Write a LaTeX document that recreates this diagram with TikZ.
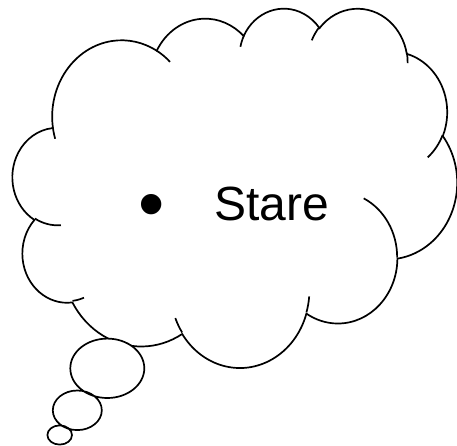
\documentclass[tikz,border=0pt]{standalone}
\usepackage{fontspec}
\setmainfont{Liberation Sans}

\tikzset{
  cloudline/.style={draw=black,line width=1.7pt,fill=white},
  tailline/.style={draw=black,line width=1.7pt},
}
% elliptic arc, start angle and sweep given as seen on the ellipse
\newcommand\cloudarc[4]{%
  \pgfextra{%
    \pgfmathparse{(#3)+mod(atan2((#1)*sin(#3),(#2)*cos(#3))-(#3)+900,360)-180}\xdef\arcS{\pgfmathresult}%
    \pgfmathparse{(#3)+(#4)}\xdef\arcT{\pgfmathresult}%
    \pgfmathparse{(\arcT)+mod(atan2((#1)*sin(\arcT),(#2)*cos(\arcT))-(\arcT)+900,360)-180}\xdef\arcE{\pgfmathresult}%
  }
  arc[start angle=\arcS, end angle=\arcE, x radius=#1, y radius=#2]}

\begin{document}
\begin{tikzpicture}[x=1pt,y=-1pt]
  \useasboundingbox (0,0) rectangle (457,446);
  \begin{scope}[shift={(12.7,7.5)},x=10.285pt,y=-8.315pt]
    % outline of the cloud
    \path[cloudline] (3.900,14.370)
      \foreach \rx/\ry/\sa/\sw in {6.753/9.190/-190.48748/123.78053,
        5.333/7.267/-144.10238/89.94523, 4.365/5.945/-145.80792/99.72302,
        4.857/6.595/-130.98607/117.24173, 5.333/7.273/-78.70888/109.02692,
        6.775/9.220/-46.26725/130.269, 5.785/7.867/0.62502/114.03333,
        6.752/9.215/22.4516/115.17255, 7.720/10.543/66.24263/75.71102,
        4.360/5.918/-274.94208/146.73557, 4.345/5.945/-246.8285/152.51885}
        {\cloudarc{\rx}{\ry}{\sa}{\sw}} -- cycle;
    % small inner ends of the lobes
    \path[tailline]
      \foreach \px/\py/\rx/\ry/\sa/\sw in {4.693/26.177/4.345/5.945/86.742/26.4295,
        6.928/34.899/4.360/5.918/73.61047/11.44747,
        16.478/39.090/6.752/9.215/137.62415/14.0811,
        28.827/34.751/6.752/9.215/6.45327/15.99835,
        34.129/22.954/5.785/7.867/-70.29235/70.91737,
        41.798/15.354/5.333/7.273/30.31803/27.7515,
        38.324/5.426/4.857/6.595/-13.74433/14.85375,
        29.078/3.952/4.857/6.595/-149.18145/18.19537,
        22.141/4.720/4.365/5.945/-163.49427/17.68635,
        14.000/5.192/6.753/9.190/-66.70695/12.31935,
        4.127/15.789/6.753/9.190/157.65435/11.85817}
        {(\px,\py) \cloudarc{\rx}{\ry}{\sa}{\sw}};
  \end{scope}
  % thought bubbles
  \path[cloudline] (107.3,368.3) ellipse [x radius=37, y radius=29.7]
    (77.3,410.3) ellipse [x radius=24.5, y radius=19.8]
    (59.7,435) ellipse [x radius=12.3, y radius=9.6];
  \node[font=\fontsize{75}{90}\selectfont,anchor=base west,inner sep=0] (bullet) at (137.9,229.3) {•};
  \node[font=\fontsize{48}{58}\selectfont,anchor=base west,inner sep=0] (stare) at (213.8,221) {Stare};
\end{tikzpicture}
\end{document}
